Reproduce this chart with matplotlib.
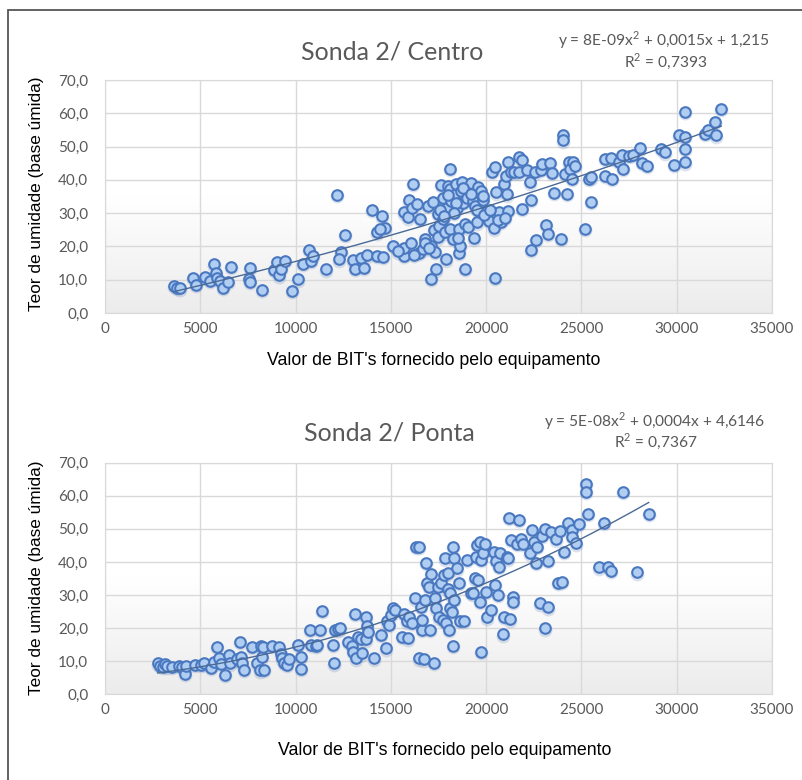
import numpy as np
import matplotlib.pyplot as plt
from matplotlib.colors import LinearSegmentedColormap
from matplotlib.patches import Rectangle

plt.rcParams['mathtext.fontset'] = 'custom'
plt.rcParams['mathtext.rm'] = 'Lato'

# Sonda 2 / Centro  (BIT's x teor de umidade)
centro_bits = [3620, 3760, 3950, 4640, 4780, 5230, 5500, 5720, 5820, 5900, 6040, 6200, 6470, 6600,
               7540, 7600, 7600, 8240, 8860, 9020, 9150, 9260, 9470, 9800, 10120, 10390, 10710,
               10820, 10920, 11620, 12160, 12370, 12590, 12290, 13020, 13120, 13420, 13580, 13770,
               14010, 14280, 14280, 14520, 14600, 14710, 14410, 15110, 15670, 15670, 15700, 15890,
               15970, 16050, 16180, 16130, 16370, 16450, 16530, 16670, 16780, 16940, 17100, 17120,
               17260, 17340, 17390, 17450, 17470, 17530, 17630, 17630, 17740, 17740, 17820, 17900,
               17960, 18010, 18090, 18120, 18120, 18170, 18250, 18330, 18440, 18470, 18550, 18600,
               18650, 18680, 18730, 18790, 18870, 18870, 18980, 19060, 19190, 19330, 19350, 19410,
               19510, 19590, 19670, 19730, 19810, 19860, 20050, 20130, 20320, 20430, 20450, 20480,
               20530, 20670, 20800, 20940, 21020, 21100, 21150, 21150, 21310, 21470, 21740, 21740,
               21870, 21870, 22140, 22300, 22330, 22330, 22550, 22630, 22900, 22950, 23160, 23270,
               23350, 23430, 23540, 23940, 24020, 24020, 24160, 24240, 24340, 24420, 24500, 24560,
               24670, 25200, 25420, 25500, 25500, 26220, 26250, 26570, 26620, 26970, 27130, 27190,
               27510, 27700, 28050, 28180, 28450, 29200, 29390, 29870, 30140, 30460, 30460, 30460,
               30460, 31480, 31640, 32020, 32070, 32340,
               17200, 17600, 18000, 18400, 18800, 19200, 19500, 18300, 17800, 16800, 17000, 18500,
               16200, 19900, 20600, 21000, 15400, 20200]
centro_umid = [8.1, 7.6, 7.4, 10.6, 8.4, 10.8, 9.6, 14.6, 11.9, 10.6, 9.6, 7.6, 9.3, 13.9,
               10.3, 13.6, 9.4, 7.0, 12.9, 15.3, 11.3, 13.3, 15.6, 6.7, 10.1, 14.8, 18.9,
               15.6, 17.1, 13.1, 35.5, 18.3, 23.4, 16.1, 15.8, 13.3, 16.6, 13.6, 17.3,
               31.0, 17.1, 24.2, 29.0, 16.8, 25.6, 25.2, 20.1, 17.1, 19.6, 30.2, 28.7,
               33.9, 21.1, 38.8, 31.7, 32.7, 18.1, 28.2, 19.1, 22.2, 32.2, 10.3, 20.1,
               24.9, 18.3, 13.1, 29.7, 22.7, 26.2, 38.5, 33.0, 34.7, 28.2, 24.2, 16.1,
               31.5, 38.3, 43.3, 37.3, 25.2, 33.7, 22.2, 35.4, 38.8, 31.7, 25.2, 18.1,
               20.1, 36.8, 39.5, 33.2, 13.3, 26.7, 34.7, 25.7, 39.1, 33.7, 22.4, 32.2,
               27.2, 37.8, 30.2, 36.8, 34.0, 35.2, 30.7, 27.7, 42.5, 25.4, 10.6, 43.8,
               36.3, 30.2, 27.4, 38.8, 41.3, 35.7, 30.7, 45.3, 42.5, 42.3, 42.3, 46.8,
               46.1, 31.4, 43.1, 39.3, 18.9, 34.0, 42.3, 22.0, 43.1, 44.8, 26.4, 23.7,
               45.1, 42.1, 36.1, 22.2, 53.4, 51.9, 41.8, 35.8, 45.3, 43.3, 40.3, 45.3,
               44.3, 25.2, 40.3, 40.8, 33.4, 46.3, 41.3, 46.5, 40.3, 45.5, 47.6, 43.3,
               47.3, 47.5, 49.5, 45.1, 44.3, 49.3, 48.3, 44.6, 53.4, 60.4, 52.9, 49.3,
               45.3, 53.9, 54.9, 57.4, 53.4, 61.4,
               33.5, 31.0, 35.5, 33.0, 37.5, 35.8, 31.0, 30.0, 29.0, 21.0, 19.5, 22.5,
               17.5, 29.5, 28.0, 28.5, 18.5, 31.0]

# Sonda 2 / Ponta
ponta_bits = [2760, 2900, 3030, 3140, 3250, 3490, 3890, 4030, 4210, 4240, 4700, 5050, 5180, 5580,
              5720, 5900, 5990, 6090, 6310, 6500, 6580, 6900, 7060, 7110, 7190, 7300, 7700, 7990,
              8130, 8190, 8240, 8320, 8270, 8780, 9130, 9210, 9310, 9390, 9530, 9660, 10120,
              10280, 10280, 10740, 10790, 11080, 11140, 11270, 11410, 11940, 11990, 12080, 12210,
              12350, 12750, 12960, 13020, 13100, 13150, 13290, 13420, 13500, 13690, 13720, 13770,
              13820, 14090, 14490, 14760, 14820, 14900, 15030, 15110, 15220, 15570, 15700, 15840,
              15920, 15970, 16100, 16240, 16320, 16450, 16450, 16590, 16640, 16640, 16720, 16780,
              16860, 16910, 16990, 17040, 17100, 17260, 17310, 17370, 17450, 17530, 17630, 17740,
              17800, 17850, 17900, 17980, 18010, 18070, 18090, 18120, 18200, 18250, 18250, 18310,
              18330, 18470, 18550, 18650, 18840, 18980, 19190, 19330, 19410, 19460, 19510, 19590,
              19670, 19700, 19730, 19750, 19860, 19940, 19990, 20050, 20260, 20430, 20480, 20530,
              20610, 20670, 20750, 20880, 20940, 21070, 21150, 21210, 21260, 21290, 21390, 21390,
              21610, 21740, 21820, 21930, 22280, 22410, 22490, 22630, 22680, 22820, 22950, 23080,
              23100, 23220, 23270, 23380, 23670, 23750, 23880, 23960, 24080, 24290, 24480, 24500,
              24690, 24880, 25230, 25230, 25360, 26170, 25900, 26380, 26570, 27160, 27910, 28530]
ponta_umid = [9.4, 8.6, 8.2, 9.2, 8.4, 8.2, 8.6, 8.2, 6.1, 8.4, 8.9, 8.9, 9.4, 7.9,
              9.9, 14.4, 10.9, 9.2, 5.8, 11.9, 9.4, 10.6, 15.9, 11.4, 9.4, 7.4, 14.4, 9.4,
              7.2, 14.6, 11.4, 7.4, 14.4, 14.6, 14.4, 12.1, 10.9, 9.6, 8.9, 10.6, 14.9,
              11.4, 7.6, 19.4, 14.9, 14.6, 14.9, 19.4, 25.3, 14.9, 9.4, 19.4, 19.6,
              19.9, 15.9, 14.6, 12.9, 24.3, 10.9, 17.4, 16.6, 12.4, 16.6, 23.3, 20.6,
              18.9, 10.9, 17.9, 13.9, 22.0, 20.9, 24.0, 26.0, 25.5, 17.4, 24.3, 22.0,
              16.9, 23.5, 21.5, 29.0, 44.6, 44.6, 10.9, 26.5, 19.4, 22.5, 10.6, 28.5,
              39.8, 33.7, 32.5, 19.4, 36.4, 9.6, 29.0, 26.0, 32.5, 23.3, 33.5, 22.5,
              36.1, 41.1, 21.5, 31.7, 36.6, 19.4, 26.0, 30.5, 25.0, 44.6, 14.6, 41.1,
              28.5, 38.1, 33.7, 22.3, 22.3, 40.6, 30.7, 30.5, 35.0, 41.6, 45.1, 34.5,
              46.1, 28.0, 40.6, 12.9, 42.6, 45.4, 31.0, 23.3, 25.5, 43.1, 33.0, 40.4,
              30.0, 38.6, 42.8, 18.1, 23.5, 41.6, 41.1, 53.4, 22.7, 46.6, 29.5, 28.0,
              45.4, 52.7, 46.8, 45.4, 42.6, 49.6, 46.1, 39.8, 44.6, 27.5, 47.8, 19.9,
              50.0, 40.4, 26.3, 49.1, 46.8, 33.7, 49.4, 34.0, 43.1, 51.7, 49.6, 47.6,
              45.6, 51.5, 63.7, 61.2, 54.5, 51.9, 38.4, 38.6, 37.4, 61.2, 36.9, 54.5]

y_ticks = [0, 10, 20, 30, 40, 50, 60, 70]
y_tick_labels = ['0,0', '10,0', '20,0', '30,0', '40,0', '50,0', '60,0', '70,0']
x_ticks = [0, 5000, 10000, 15000, 20000, 25000, 30000, 35000]

gray_txt = '#595959'
fill_col = '#b0cdf2'
edge_col = '#4a78c0'

bg_cmap = LinearSegmentedColormap.from_list('bg', ['#ffffff', '#ffffff', '#ececec'])


def draw_panel(ax, bits, umid):
    bits = np.array(bits, dtype=float)
    umid = np.array(umid, dtype=float)

    # gradient fill of the plot area
    grad = np.linspace(0, 1, 256).reshape(-1, 1)
    ax.imshow(grad, extent=[0, 35000, 0, 70], aspect='auto', cmap=bg_cmap,
              origin='upper', zorder=0)

    ax.set_xlim(0, 35000)
    ax.set_ylim(0, 70)
    ax.set_xticks(x_ticks)
    ax.set_xticklabels([str(t) for t in x_ticks], fontsize=11, color=gray_txt, family='Lato')
    ax.set_yticks(y_ticks)
    ax.set_yticklabels(y_tick_labels, fontsize=11, color=gray_txt, family='Lato')
    ax.tick_params(axis='x', length=0, pad=6.5)
    ax.tick_params(axis='y', length=0, pad=12)
    ax.grid(True, color='#d9d9d9', linewidth=1)
    ax.set_axisbelow(True)
    for sp in ax.spines.values():
        sp.set_color('#d9d9d9')

    # soft shadow + markers
    ax.scatter(bits, umid - 0.4, s=100, color='#6f8fc0', alpha=0.25, linewidths=0, zorder=3)
    ax.scatter(bits, umid, s=58, color=fill_col, edgecolor=edge_col, linewidths=1.5, zorder=4)

    # polynomial trend line (2nd order)
    coef = np.polyfit(bits, umid, 2)
    xs = np.linspace(bits.min(), bits.max(), 200)
    ax.plot(xs, np.polyval(coef, xs), color='#4a6a96', linewidth=1.0, zorder=5)


fig = plt.figure(figsize=(8.03, 7.80), dpi=100)

ax1 = fig.add_axes([0.1308, 0.5987, 0.8306, 0.2987])
draw_panel(ax1, centro_bits, centro_umid)
ax2 = fig.add_axes([0.1308, 0.1099, 0.8306, 0.2969])
draw_panel(ax2, ponta_bits, ponta_umid)

# titles and trend equations
fig.text(0.489, 0.933, 'Sonda 2/ Centro', fontsize=18, color=gray_txt, family='Lato',
         ha='center', va='center')
fig.text(0.959, 0.949, r'y = 8E-09x$^{\mathrm{2}}$ + 0,0015x + 1,215', fontsize=11.2,
         color=gray_txt, family='Lato', ha='right', va='center')
fig.text(0.829, 0.922, r'R$^{\mathrm{2}}$ = 0,7393', fontsize=11.2, color=gray_txt,
         family='Lato', ha='center', va='center')

fig.text(0.485, 0.445, 'Sonda 2/ Ponta', fontsize=18, color=gray_txt, family='Lato',
         ha='center', va='center')
fig.text(0.953, 0.460, r'y = 5E-08x$^{\mathrm{2}}$ + 0,0004x + 4,6146', fontsize=11.2,
         color=gray_txt, family='Lato', ha='right', va='center')
fig.text(0.816, 0.435, r'R$^{\mathrm{2}}$ = 0,7367', fontsize=11.2, color=gray_txt,
         family='Lato', ha='center', va='center')

# axis labels
fig.text(0.540, 0.538, "Valor de BIT's fornecido pelo equipamento", fontsize=12.8,
         family='Liberation Sans', ha='center', va='center')
fig.text(0.554, 0.038, "Valor de BIT's fornecido pelo equipamento", fontsize=12.8,
         family='Liberation Sans', ha='center', va='center')
fig.text(0.046, 0.752, 'Teor de umidade (base úmida)', fontsize=12.4, rotation=90,
         family='Liberation Sans', ha='center', va='center')
fig.text(0.046, 0.259, 'Teor de umidade (base úmida)', fontsize=12.4, rotation=90,
         family='Liberation Sans', ha='center', va='center')

# outer chart border
fig.patches.append(Rectangle((0.010, -0.05), 1.2, 1.037, transform=fig.transFigure,
                             fill=False, edgecolor='#555555', linewidth=1.3))

fig.savefig('out.png', dpi=100)
